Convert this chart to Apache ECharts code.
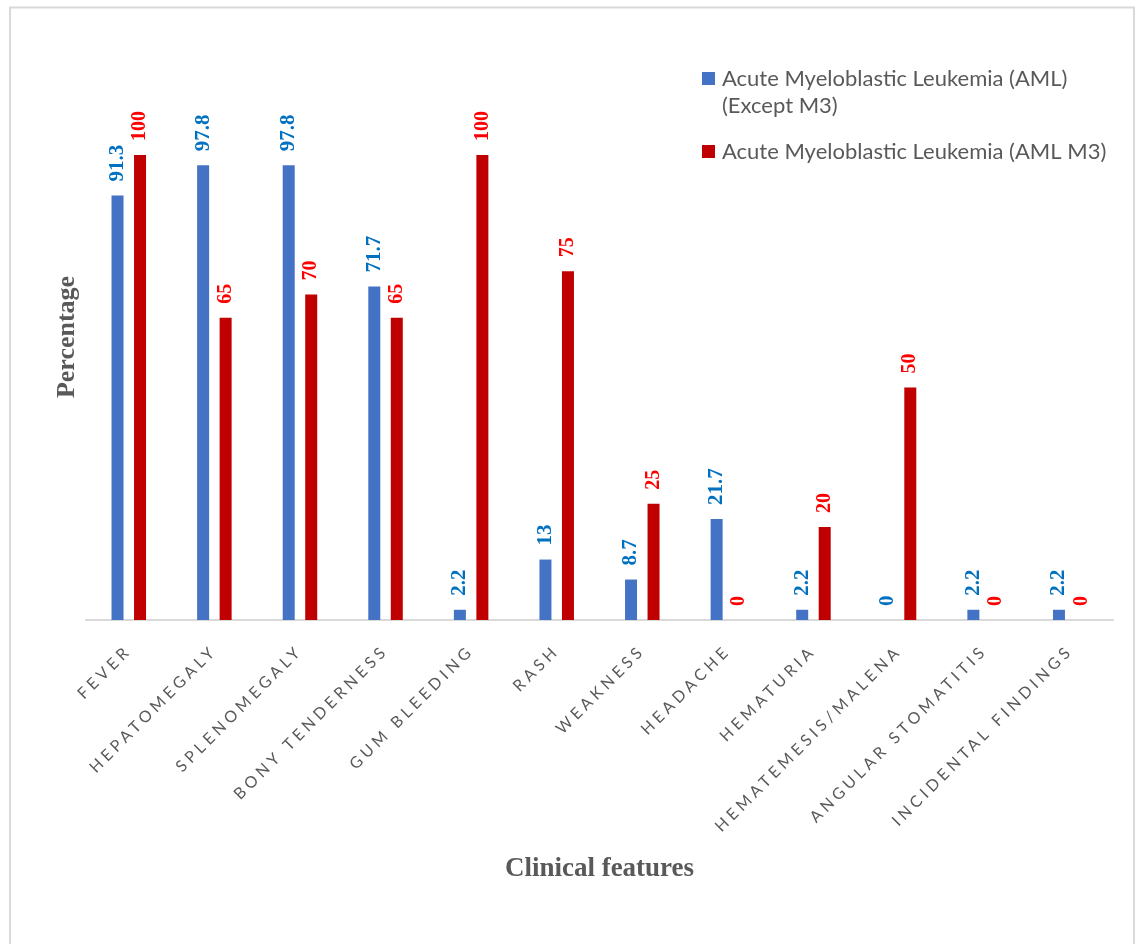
<!DOCTYPE html>
<html>
<head>
<meta charset="utf-8">
<script src="https://cdn.jsdelivr.net/npm/echarts@6/dist/echarts.min.js"></script>
<style>
  html, body { margin: 0; padding: 0; background: #ffffff; }
  #chart { width: 1136px; height: 944px; }
</style>
</head>
<body>
<div id="chart"></div>
<script>
// Clinical features (category axis)
const categories = [
  'FEVER', 'HEPATOMEGALY', 'SPLENOMEGALY', 'BONY TENDERNESS', 'GUM BLEEDING', 'RASH',
  'WEAKNESS', 'HEADACHE', 'HEMATURIA', 'HEMATEMESIS/MALENA', 'ANGULAR STOMATITIS', 'INCIDENTAL FINDINGS'
];
// Series names
const seriesNameA = 'Acute Myeloblastic Leukemia (AML) (Except M3)';
const seriesNameB = 'Acute Myeloblastic Leukemia (AML M3)';
// Percentages per clinical feature
const amlExceptM3 = [91.3, 97.8, 97.8, 71.7, 2.2, 13, 8.7, 21.7, 2.2, 0, 2.2, 2.2];
const amlM3 = [100, 65, 70, 65, 100, 75, 25, 0, 20, 50, 0, 0];

// Wide tracking for the category labels (16px Lato): apply canvas letterSpacing
// whenever that font is set, so measurement and drawing both include it.
(function () {
  const desc = Object.getOwnPropertyDescriptor(CanvasRenderingContext2D.prototype, 'font');
  Object.defineProperty(CanvasRenderingContext2D.prototype, 'font', {
    configurable: true,
    get() { return desc.get.call(this); },
    set(v) {
      desc.set.call(this, v);
      if ('letterSpacing' in this) {
        this.letterSpacing = (/\b16px\b/.test(v) && /Lato/.test(v)) ? '4px' : '0px';
      }
    }
  });
})();

const chart = echarts.init(document.getElementById('chart'), null, { renderer: 'canvas' });

const valueLabel = (color, size) => ({
  show: true,
  position: 'top',
  rotate: 90,
  align: 'left',
  verticalAlign: 'middle',
  distance: 14,
  color: color,
  fontFamily: '"Liberation Serif", "Times New Roman", serif',
  fontWeight: 'bold',
  fontSize: size
});

chart.setOption({
  backgroundColor: '#ffffff',
  animation: false,
  graphic: [
    {
      type: 'rect',
      silent: true,
      shape: { x: 10, y: 7.5, width: 1124, height: 960 },
      style: { fill: 'none', stroke: '#d9d9d9', lineWidth: 2 }
    },
    {
      type: 'text',
      x: 67,
      y: 337,
      rotation: Math.PI / 2,
      style: {
        text: 'Percentage',
        x: 0,
        y: 0,
        textAlign: 'center',
        textVerticalAlign: 'middle',
        fill: '#595959',
        font: 'bold 26px "Liberation Serif", "Times New Roman", serif'
      }
    }
  ],
  legend: {
    orient: 'vertical',
    left: 702,
    top: 38,
    padding: 0,
    itemWidth: 13,
    itemHeight: 13,
    itemGap: 19,
    icon: 'rect',
    selectedMode: false,
    data: [seriesNameA, seriesNameB],
    formatter: function (name) {
      if (name === seriesNameA) {
        return ' \nAcute Myeloblastic Leukemia (AML)\n(Except M3)';
      }
      return name;
    },
    textStyle: {
      color: '#595959',
      fontFamily: 'Lato, "Open Sans", sans-serif',
      fontSize: 22,
      lineHeight: 27,
      padding: [0, 0, 0, 2]
    }
  },
  grid: {
    left: 86,
    right: 23,
    top: 155,
    bottom: 324,
    containLabel: false
  },
  xAxis: {
    type: 'category',
    data: categories,
    name: 'Clinical features',
    nameLocation: 'middle',
    nameGap: 236,
    nameTextStyle: {
      color: '#595959',
      fontFamily: '"Liberation Serif", "Times New Roman", serif',
      fontWeight: 'bold',
      fontSize: 27
    },
    axisLine: { show: true, lineStyle: { color: '#d9d9d9', width: 2 } },
    axisTick: { show: false },
    axisLabel: {
      interval: 0,
      rotate: 45,
      margin: 28,
      color: '#595959',
      fontFamily: 'Lato',
      fontSize: 16
    },
    splitLine: { show: false }
  },
  yAxis: {
    type: 'value',
    min: 0,
    max: 100,
    axisLine: { show: false },
    axisTick: { show: false },
    axisLabel: { show: false },
    splitLine: { show: false }
  },
  series: [
    {
      name: seriesNameA,
      type: 'bar',
      data: amlExceptM3,
      barWidth: 12,
      barGap: '87.5%',
      itemStyle: { color: '#4472c4' },
      label: valueLabel('#0070c0', 21)
    },
    {
      name: seriesNameB,
      type: 'bar',
      data: amlM3,
      barWidth: 12,
      itemStyle: { color: '#c00000' },
      label: valueLabel('#ff0000', 20)
    }
  ]
});
</script>
</body>
</html>
